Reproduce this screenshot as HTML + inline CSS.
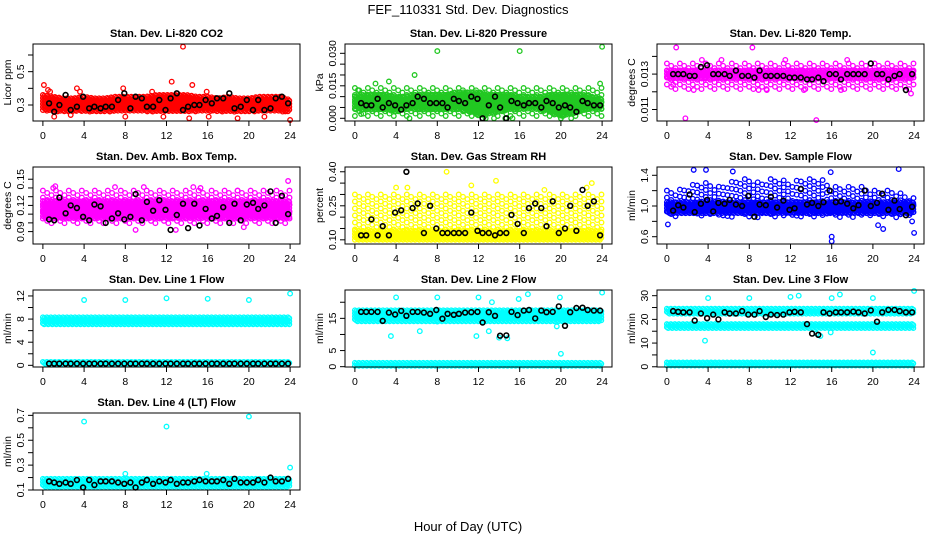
<!DOCTYPE html>
<html><head><meta charset="utf-8"><style>
html,body{margin:0;padding:0;background:#fff;}
svg{display:block;font-family:"Liberation Sans",Arial,sans-serif;}
</style></head><body>
<svg id="chart" width="936" height="540" viewBox="0 0 936 540">
<rect width="936" height="540" fill="#fff"/>
<text x="468" y="14" font-size="13" text-anchor="middle">FEF_110331  Std. Dev. Diagnostics</text>
<text x="468" y="531" font-size="13" text-anchor="middle">Hour of Day (UTC)</text>
</svg>
<script>
const xTicks=[0,4,8,12,16,20,24];
const blackHours=[0.6,1.1,1.6,2.2,2.7,3.3,3.9,4.5,5.0,5.6,6.1,6.7,7.3,7.9,8.5,9.0,9.6,10.1,10.7,11.3,11.9,12.4,13.0,13.6,14.1,14.7,15.2,15.8,16.4,16.9,17.5,18.1,18.6,19.2,19.8,20.4,20.9,21.5,22.1,22.6,23.2,23.8];
const panelTitles=["Stan. Dev. Li-820 CO2","Stan. Dev. Li-820 Pressure","Stan. Dev. Li-820 Temp.","Stan. Dev. Amb. Box Temp.","Stan. Dev. Gas Stream RH","Stan. Dev. Sample Flow","Stan. Dev. Line 1 Flow","Stan. Dev. Line 2 Flow","Stan. Dev. Line 3 Flow","Stan. Dev. Line 4 (LT) Flow"];
const yUnits=["Licor ppm","kPa","degrees C","degrees C","percent","ml/min","ml/min","ml/min","ml/min","ml/min"];
const yLabelTicks=[[0.3,0.5],[0,0.015,0.030],[0.011,0.013],[0.09,0.12,0.15],[0.10,0.25,0.40],[0.6,1.0,1.4],[0,4,8,12],[0,5,15],[0,10,20,30],[0.1,0.3,0.5,0.7]];
const yLabelText=[["0.3","0.5"],["0.000","0.015","0.030"],["0.011","0.013"],["0.09","0.12","0.15"],["0.10","0.25","0.40"],["0.6","1.0","1.4"],["0","4","8","12"],["0","5","15"],["0","10","20","30"],["0.1","0.3","0.5","0.7"]];
const yMinorTicks=[[0.3,0.4,0.5,0.6],[0,0.005,0.01,0.015,0.02,0.025,0.03],[0.011,0.012,0.013,0.014],[0.09,0.10,0.11,0.12,0.13,0.14,0.15],[0.10,0.15,0.20,0.25,0.30,0.35,0.40],[0.6,0.8,1.0,1.2,1.4],[0,2,4,6,8,10,12],[0,5,10,15,20],[0,5,10,15,20,25,30],[0.1,0.2,0.3,0.4,0.5,0.6,0.7]];
const yLimits=[[0.204,0.666],[-0.00125,0.0343],[0.01035,0.0147],[0.0758,0.164],[0.0816,0.421],[0.505,1.508],[-0.29,13.03],[-0.1,23.8],[-0.1,32.4],[0.1,0.719]];
const seriesColors=["#ff0000","#22c822","#ff00ff","#ff00ff","#ffff00","#0000ff","#00ffff","#00ffff","#00ffff","#00ffff"];
// bands: [lowValues, highValues, dense]
const co2Bands=[[[0.27,0.26,0.26,0.26,0.26,0.26,0.26,0.26,0.26,0.26,0.26,0.26,0.26,0.26,0.26,0.26,0.26,0.26,0.26,0.26,0.26,0.26,0.26,0.26,0.26],[0.36,0.35,0.34,0.34,0.35,0.34,0.34,0.35,0.35,0.35,0.35,0.36,0.36,0.36,0.36,0.35,0.35,0.34,0.35,0.34,0.34,0.35,0.35,0.35,0.33],1]];
const presBands=[[[0.004,0.004,0.004,0.004,0.003,0.004,0.004,0.004,0.004,0.004,0.004,0.003,0.001,0.002,0.003,0.004,0.004,0.004,0.004,0.002,0.001,0.002,0.003,0.004,0.004],[0.010,0.011,0.011,0.011,0.010,0.010,0.011,0.011,0.011,0.011,0.012,0.012,0.012,0.011,0.011,0.011,0.010,0.010,0.010,0.011,0.011,0.011,0.011,0.010,0.009],1],[[0.001,0.001],[0.014,0.014],0]];
const tempBands=[[[0.0127,0.0127],[0.0132,0.0132],1],[[0.0121,0.0121],[0.0136,0.0136],0]];
const ambBands=[[[0.105,0.105],[0.125,0.125],1],[[0.097,0.097],[0.137,0.137],0]];
const rhBands=[[[0.10,0.10],[0.14,0.14],1],[[0.14,0.14],[0.30,0.30],0]];
const flowBands=[[[0.9,0.9],[1.05,1.05],1],[[0.85,0.85],[1.2,1.2,1.25,1.3,1.3,1.25,1.3,1.35,1.35,1.3,1.35,1.35,1.3,1.35,1.35,1.35,1.25,1.25,1.25,1.25,1.2,1.2,1.2,1.15,1.1],0]];
const line1Bands=[[[7.0,7.0],[8.3,8.3],1],[[0.1,0.1],[0.6,0.6],1]];
const line2Bands=[[[14,14],[17.5,17.5],1],[[0.2,0.2],[1.2,1.2],1]];
const line3Bands=[[[22,22],[24.5,24.5],1],[[16,16],[18,18],1],[[0.3,0.3],[1.8,1.8],1]];
const line4Bands=[[[0.12,0.12],[0.19,0.19],1]];
const co2Out=[[0.1,0.42],[0.5,0.39],[0.7,0.38],[3.3,0.40],[3.6,0.38],[7.8,0.40],[12.5,0.44],[13.6,0.65],[14.5,0.42],[15.9,0.38],[1.1,0.23],[2.7,0.24],[8,0.23],[11.7,0.23],[14.2,0.22],[16.1,0.23],[18.9,0.22],[21.5,0.23],[24,0.21],[10.6,0.38]];
const presOut=[[8,0.031],[16,0.031],[24,0.033],[5.8,0.020],[3.3,0.017],[2,0.016],[23.8,0.016],[0.3,0.013],[5.3,0.0],[14.6,0.0],[15.3,0.0],[12.7,0.0],[13.5,0.0],[20,0],[21,0],[0.6,0.002]];
const tempOut=[[0.9,0.0145],[1.8,0.0105],[8.3,0.0145],[14.5,0.0104],[11.5,0.0138],[3.4,0.0138],[5.3,0.0138],[17.5,0.0138],[0.6,0.0124],[2.6,0.0121],[8.9,0.0121],[9.7,0.0121],[23.7,0.0119],[16.9,0.0121],[13.3,0.0121]];
const ambOut=[[1.2,0.142],[1,0.14],[7,0.141],[9.8,0.141],[14.6,0.141],[15.3,0.14],[23.8,0.148],[18.9,0.137],[9,0.092],[12.9,0.092],[19.5,0.095]];
const rhOut=[[8.9,0.40],[13.7,0.36],[11.3,0.34],[4,0.33],[5.1,0.33],[23,0.35],[22.5,0.33],[18.4,0.32]];
const flowOut=[[0.1,0.76],[16,0.60],[16,0.54],[24,0.65],[20.5,0.75],[21,0.70],[22.5,1.48],[3.8,1.47],[2.6,1.47],[6.4,1.45],[15.9,1.44],[23.8,0.80]];
const line1Out=[[4,11.3],[8,11.3],[12,11.6],[16,11.5],[20,11.3],[24,12.4]];
const line2Out=[[4,21.5],[8,21.5],[12,21.5],[15.9,21],[16.8,22.5],[19.9,21.5],[24,23],[3.5,9.5],[6.3,11],[8,14],[11.8,9.5],[13,11],[13.3,20],[14,9],[14.8,8.8],[19.6,12.5],[20,4]];
const line3Out=[[4,29],[8,29],[12,29.5],[12.8,30],[16,29],[16.8,30.5],[20,29],[24,32],[3.7,11],[20,6],[15.9,14.5],[14.5,14],[14.9,13]];
const line4Out=[[4,0.65],[12,0.61],[20,0.69],[24,0.28],[8,0.23],[15.9,0.23]];
const co2Black=[0.31,0.26,0.30,0.36,0.27,0.29,0.35,0.28,0.29,0.28,0.29,0.29,0.33,0.37,0.28,0.35,0.34,0.29,0.29,0.33,0.27,0.34,0.37,0.27,0.29,0.30,0.30,0.33,0.31,0.34,0.34,0.37,0.28,0.29,0.33,0.27,0.33,0.27,0.28,0.34,0.35,0.31];
const presBlack=[0.007,0.006,0.006,0.009,0.005,0.007,0.006,0.004,0.006,0.007,0.010,0.009,0.007,0.007,0.007,0.005,0.009,0.008,0.007,0.010,0.009,0.000,0.006,0.010,0.005,0.000,0.008,0.007,0.006,0.007,0.007,0.005,0.008,0.007,0.005,0.006,0.005,0.003,0.008,0.007,0.006,0.006];
const tempBlack=[0.0130,0.0130,0.0130,0.0129,0.0129,0.0134,0.0135,0.0130,0.0130,0.0130,0.0129,0.0132,0.0129,0.0129,0.0128,0.0132,0.0129,0.0129,0.0129,0.0129,0.0128,0.0128,0.0128,0.0127,0.0127,0.0128,0.0126,0.0130,0.0130,0.0127,0.0130,0.0130,0.0130,0.0130,0.0136,0.0130,0.0130,0.0127,0.0129,0.0130,0.0121,0.0130];
const ambBlack=[0.104,0.103,0.129,0.111,0.120,0.117,0.107,0.103,0.121,0.119,0.100,0.105,0.111,0.104,0.107,0.133,0.103,0.124,0.114,0.126,0.115,0.092,0.109,0.122,0.094,0.122,0.097,0.116,0.105,0.108,0.118,0.100,0.122,0.103,0.121,0.123,0.116,0.120,0.136,0.100,0.131,0.110];
const rhBlack=[0.12,0.12,0.19,0.12,0.16,0.12,0.22,0.23,0.40,0.24,0.26,0.13,0.25,0.15,0.13,0.13,0.13,0.13,0.13,0.22,0.14,0.13,0.13,0.12,0.13,0.13,0.21,0.17,0.13,0.24,0.26,0.24,0.16,0.27,0.13,0.15,0.25,0.14,0.32,0.25,0.27,0.12];
const flowBlack=[0.94,1.01,0.98,1.15,0.92,1.03,1.08,0.93,1.04,1.03,1.08,1.02,1.0,1.13,0.86,1.02,1.01,1.12,0.98,1.07,0.95,0.97,1.22,1.02,1.04,1.0,1.05,1.20,1.05,1.06,1.03,0.97,1.01,1.20,1.0,1.04,1.16,0.95,1.07,0.96,0.88,0.99];
const line1Black=[0.3,0.3,0.3,0.3,0.3,0.3,0.3,0.3,0.3,0.3,0.3,0.3,0.3,0.3,0.3,0.3,0.3,0.3,0.3,0.3,0.3,0.3,0.3,0.3,0.3,0.3,0.3,0.3,0.3,0.3,0.3,0.3,0.3,0.3,0.3,0.3,0.3,0.3,0.3,0.3,0.3,0.3];
const line2Black=[17,17,17,17,14.2,16.8,16.2,17.3,15.8,17.0,17.0,16.8,16.4,17.6,14.9,16.4,16.1,16.4,16.8,16.9,17.0,13.7,16.9,15.8,9.6,9.7,17.0,16.0,17.4,17.6,15.0,17.4,16.9,17.0,18.7,12.7,16.9,18.2,18.3,17.6,17.4,17.4];
const line3Black=[23.5,23.2,23,23,19.5,22.5,20.5,22,20,23,22.5,22.5,23.5,22,22,23.5,21,22,21.8,22,23,23.2,23,18,14,13.5,23,22.5,23,23,23,23.3,23,22.5,23.8,19,23,24,24,23.5,23,23];
const line4Black=[0.17,0.16,0.15,0.16,0.15,0.18,0.12,0.18,0.14,0.17,0.17,0.17,0.16,0.15,0.16,0.12,0.16,0.18,0.15,0.17,0.16,0.18,0.15,0.16,0.16,0.17,0.18,0.17,0.17,0.17,0.18,0.15,0.19,0.16,0.16,0.16,0.18,0.16,0.20,0.17,0.17,0.19];
const allBands=[co2Bands,presBands,tempBands,ambBands,rhBands,flowBands,line1Bands,line2Bands,line3Bands,line4Bands];
const allOut=[co2Out,presOut,tempOut,ambOut,rhOut,flowOut,line1Out,line2Out,line3Out,line4Out];
const allBlack=[co2Black,presBlack,tempBlack,ambBlack,rhBlack,flowBlack,line1Black,line2Black,line3Black,line4Black];
const panelNames=["co2","pressure","licor-temp","amb-box-temp","gas-stream-rh","sample-flow","line1-flow","line2-flow","line3-flow","line4-flow"];

const NS="http://www.w3.org/2000/svg";
const svg=document.getElementById('chart');
function mk(tag,attrs,parent){const e=document.createElementNS(NS,tag);for(const k in attrs)e.setAttribute(k,attrs[k]);parent.appendChild(e);return e;}
const colX=[33,345,657], rowY=[44,167,290,413], W=267, H=77;
function interp(arr,h){if(arr.length===1)return arr[0];const p=h/24*(arr.length-1);const i=Math.min(Math.floor(p),arr.length-2);const f=p-i;return arr[i]*(1-f)+arr[i+1]*f;}

for(let p=0;p<10;p++){
  const L=colX[p%3], T=rowY[Math.floor(p/3)];
  const [ymin,ymax]=yLimits[p];
  const xs=h=>L+(h+0.96)/25.92*W;
  const ys=v=>T+H-(v-ymin)/(ymax-ymin)*H;
  const g=mk('g',{},svg);
  
  
  const t=mk('text',{x:L+W/2,y:T-7,'font-size':11,'font-weight':'bold','text-anchor':'middle'},g);
  t.textContent=panelTitles[p];
  
  
  // points
  const pts=mk('g',{fill:'none','stroke-width':1.3},g);
  
  
  let s='';
  const col=seriesColors[p];
  allBands[p].forEach(b=>{
    const dense=b[2]===1, step=dense?0.13:0.42, vstep=dense?3:7;
    let k=0;
    for(let h=0;h<=24.001;h+=step,k++){
      const y1=ys(interp(b[1],h)), y0=ys(interp(b[0],h));
      for(let y=y1+((k%3)*vstep/3);y<=y0;y+=vstep){
        s+=`<circle cx="${xs(h).toFixed(1)}" cy="${y.toFixed(1)}" r="2.3" stroke="${col}"/>`;
      }
    }
  });
  allOut[p].forEach(o=>{s+=`<circle cx="${xs(o[0]).toFixed(1)}" cy="${ys(o[1]).toFixed(1)}" r="2.3" stroke="${col}"/>`;});
  allBlack[p].forEach((v,i)=>{s+=`<circle cx="${xs(blackHours[i]).toFixed(1)}" cy="${ys(v).toFixed(1)}" r="2.4" stroke="#000" stroke-width="1.6"/>`;});
  pts.innerHTML=s;
  // box
  const box=mk('rect',{x:L,y:T,width:W,height:H,fill:'none',stroke:'#000','stroke-width':1},g);
  
  
  // x axis
  const xa=mk('g',{},g);
  
  
  mk('line',{x1:xs(0),x2:xs(24),y1:T+H,y2:T+H,stroke:'#000'},xa);
  xTicks.forEach(v=>{
    mk('line',{x1:xs(v),x2:xs(v),y1:T+H,y2:T+H+5,stroke:'#000'},xa);
    if(p!==6&&p!==7&&p!==8){
      const tt=mk('text',{x:xs(v),y:T+H+18,'font-size':10.5,'text-anchor':'middle'},xa);
      tt.textContent=String(v);
    }
  });
  if(p>=6&&p<=8){
    xTicks.forEach(v=>{const tt=mk('text',{x:xs(v),y:T+H+18,'font-size':10.5,'text-anchor':'middle',fill:'#000'},xa);tt.textContent=String(v);});
  }
  // y axis
  const ya=mk('g',{},g);
  
  
  mk('line',{x1:L,x2:L,y1:ys(yMinorTicks[p][0]),y2:ys(yMinorTicks[p][yMinorTicks[p].length-1]),stroke:'#000'},ya);
  yMinorTicks[p].forEach(v=>mk('line',{x1:L-5,x2:L,y1:ys(v),y2:ys(v),stroke:'#000'},ya));
  yLabelTicks[p].forEach((v,i)=>{
    const yy=ys(v), xx=L-9;
    const tt=mk('text',{x:xx,y:yy,'font-size':10.5,'text-anchor':'middle',transform:`rotate(-90 ${xx} ${yy})`},ya);
    tt.textContent=yLabelText[p][i];
  });
  const yl=mk('text',{x:L-22,y:T+H/2,'font-size':10.5,'text-anchor':'middle',transform:`rotate(-90 ${L-22} ${T+H/2})`},g);
  yl.textContent=yUnits[p];
  
  
}
</script>
</body></html>
